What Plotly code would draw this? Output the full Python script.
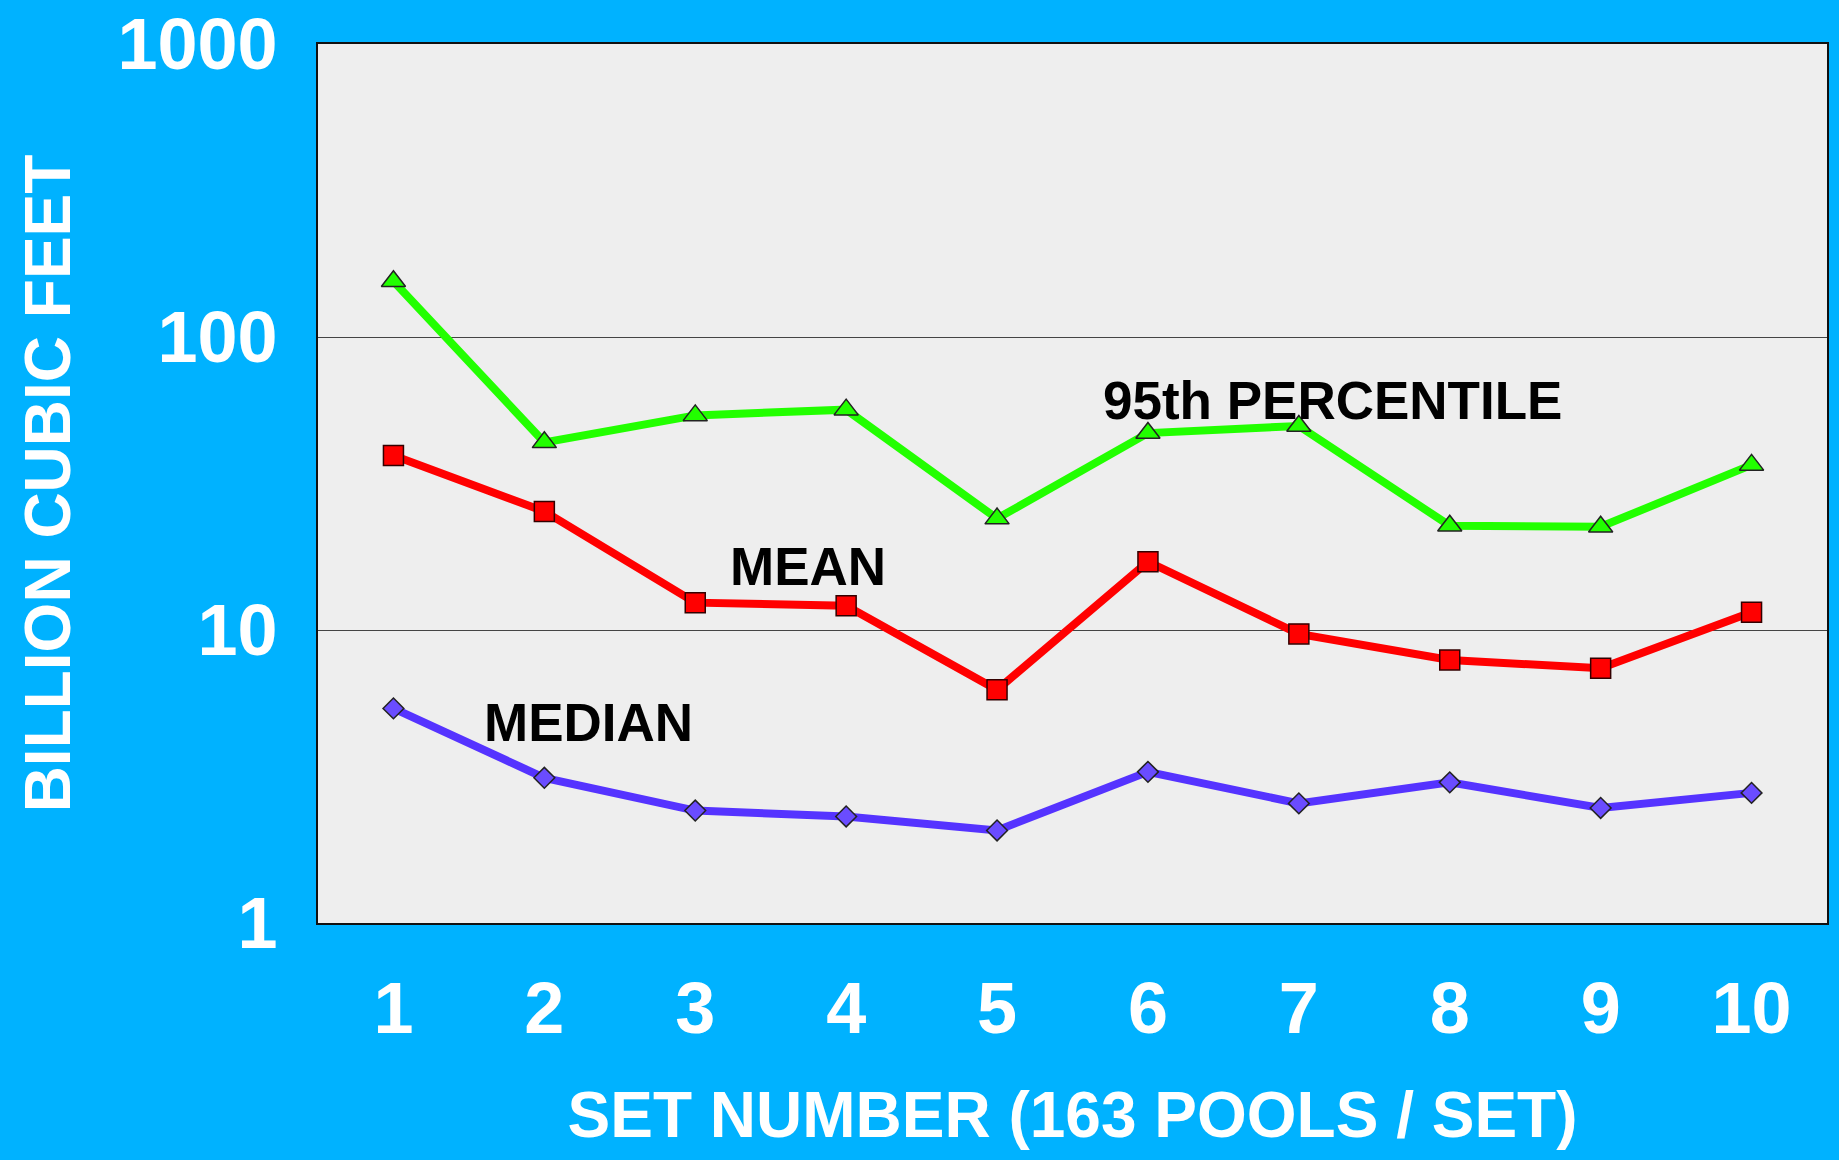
import plotly.graph_objects as go

sets = [1, 2, 3, 4, 5, 6, 7, 8, 9, 10]
p95 = [155, 43.7, 54, 56.5, 24, 47, 49.7, 22.7, 22.5, 36.6]
mean = [39.4, 25.4, 12.4, 12.1, 6.25, 17.1, 9.7, 7.9, 7.4, 11.5]
median = [5.4, 3.13, 2.42, 2.31, 2.07, 3.28, 2.56, 3.02, 2.47, 2.78]
y_tickvals = [1, 10, 100, 1000]
y_ticktext = ["1", "10", "100", "1000"]
x_ticktext = [str(s) for s in sets]

BG = "#00B2FF"
FONT = "Liberation Sans, Arial, sans-serif"

fig = go.Figure()
fig.add_trace(go.Scatter(
    x=sets, y=median, mode="lines+markers",
    line=dict(color="#5533FF", width=8),
    marker=dict(symbol="diamond", size=16, color="#6A4CFF", line=dict(color="#222222", width=1.5)),
))
fig.add_trace(go.Scatter(
    x=sets, y=mean, mode="lines+markers",
    line=dict(color="#FF0000", width=8),
    marker=dict(symbol="square", size=20, color="#FF0000", line=dict(color="#330000", width=1.5)),
))
fig.add_trace(go.Scatter(
    x=sets, y=p95, mode="lines+markers",
    line=dict(color="#22FF00", width=8),
    marker=dict(symbol="triangle-up", size=21, color="#22FF00", line=dict(color="#222222", width=1.5)),
))

ann_font = dict(family=FONT, size=53, color="black", weight="bold")
fig.add_annotation(x=5.69, y=1.782, xref="x", yref="y", text="95th PERCENTILE",
                   showarrow=False, xanchor="left", yanchor="middle", font=ann_font)
fig.add_annotation(x=3.22, y=1.218, xref="x", yref="y", text="MEAN",
                   showarrow=False, xanchor="left", yanchor="middle", font=ann_font)
fig.add_annotation(x=1.59, y=0.686, xref="x", yref="y", text="MEDIAN",
                   showarrow=False, xanchor="left", yanchor="middle", font=ann_font)

fig.update_layout(
    width=1839, height=1160,
    paper_bgcolor=BG, plot_bgcolor="#EEEEEE",
    showlegend=False,
    margin=dict(l=318, r=12, t=44, b=237, autoexpand=False),
    font=dict(family=FONT, color="white"),
)
fig.update_xaxes(
    range=[0.5, 10.5], tickvals=sets, ticktext=x_ticktext,
    tickfont=dict(family=FONT, size=72, color="white", weight="bold"),
    showgrid=False, zeroline=False,
    showline=True, linecolor="#111111", linewidth=2, mirror=True,
    ticks="", ticklabelstandoff=22,
    title=dict(text="SET NUMBER (163 POOLS / SET)",
               font=dict(family=FONT, size=64, color="white", weight="bold"), standoff=45),
    automargin=False,
)
fig.update_yaxes(
    type="log", range=[0, 3], tickvals=y_tickvals, ticktext=y_ticktext,
    tickfont=dict(family=FONT, size=72, color="white", weight="bold"),
    showgrid=True, gridcolor="#444444", gridwidth=1,
    zeroline=False,
    showline=True, linecolor="#111111", linewidth=2, mirror=True,
    ticks="", ticklabelstandoff=24,
    title=dict(text="BILLION CUBIC FEET",
               font=dict(family=FONT, size=64, color="white", weight="bold"), standoff=26),
    automargin=False,
)

fig.write_html("out.html", config={"displayModeBar": False},
               post_script="document.body.style.margin='0';document.body.style.background='" + BG + "';")
